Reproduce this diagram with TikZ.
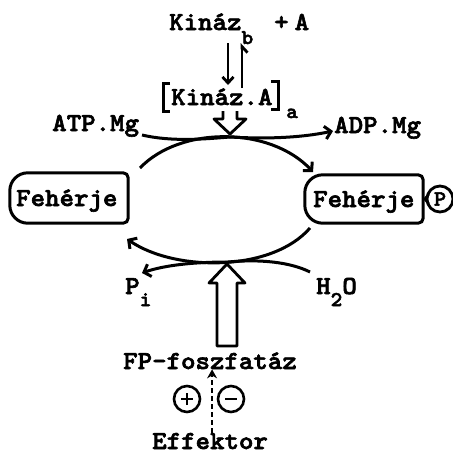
\documentclass[tikz,border=0pt]{standalone}
\usepackage{fontspec}
\newfontfamily\tw{lmmonolt10-bold}[Extension=.otf, FakeStretch=1.06, FakeBold=2.4]
\usetikzlibrary{arrows.meta,calc}
\newcommand\mainf{\tw\fontsize{26}{26}\selectfont}
\newcommand\subf{\tw\fontsize{21}{21}\selectfont}
\tikzset{
  lbl/.style={font=\mainf, inner sep=0pt, anchor=base west},
  sublbl/.style={font=\subf, inner sep=0pt, anchor=base west},
  ln/.style={line width=3pt},
  arr/.style={ln, -{Straight Barb[length=6pt,width=13pt]}},
  boxnode/.style={minimum width=118pt, minimum height=50pt, inner sep=0pt},
  pm/.style={circle, draw, line width=2.6pt, minimum size=26pt, inner sep=0pt},
}
\begin{document}
\begin{tikzpicture}[x=1pt,y=-1pt]
\useasboundingbox (0,0) rectangle (453,456);

% top: Kinaz_b + A
\node[lbl] (kin) at (169,30) {Kináz\raisebox{-14pt}{\subf b}};
\node[lbl] (plusA) at (274,30) {+\hspace{6pt}A};
% equilibrium arrows
\coordinate (d1) at (228,43); \coordinate (d2) at (228,85);
\coordinate (u1) at (242,88); \coordinate (u2) at (242,43);
\draw[ln, line width=2.8pt, -{Straight Barb[length=6pt,width=11pt]}] (d1) -- (d2);
\draw[ln, line width=2.8pt, -{Straight Barb[right,length=6pt,width=11pt]}] (u1) -- (u2);

% [Kinaz.A]_a
\node[lbl] (ka) at (171,105) {Kináz.A};
\node[sublbl] (kasub) at (286,118) {a};
\draw[ln] (170,83) -- (163,83) -- (163,111) -- (170,111);
\draw[ln] (271,81) -- (278,81) -- (278,109) -- (271,109);
% hollow arrow down
\draw[ln, line width=2.8pt, line join=round] (223,111) -- (223,119) -- (214,119) -- (230,134) -- (246,119) -- (237,119) -- (237,111);

% ATP / ADP labels
\node[lbl] (atp) at (52,131) {ATP.Mg};
\node[lbl] (adp) at (334,133) {ADP.Mg};

% boxes
\node[boxnode] (fl) at (69,198) {};
\node[lbl] (flt) at (16,206) {Fehérje};
\draw[ln] (fl.north) [rounded corners=5pt] -- (fl.north east) -- (fl.south east) -- (fl.south)
  [rounded corners=18pt] -- (fl.south west) -- (fl.north west) -- cycle;

\node[boxnode, minimum height=48pt] (fr) at (364,199) {};
\node[lbl] (frt) at (313,207) {Fehérje};
\draw[ln] (fr.north) [rounded corners=5pt] -- (fr.north east) -- (fr.south east) -- (fr.south)
  [rounded corners=18pt] -- (fr.south west) -- (fr.north west) -- cycle;

\node[circle, draw, line width=2.8pt, minimum size=26pt, inner sep=0pt, font=\tw\fontsize{22}{22}\selectfont] (pc) at (440,199) {P};
\draw[line width=2.6pt, -{Straight Barb[length=4pt,width=10pt]}] (pc.west) -- (fr.east);

% top arc with ATP / ADP branches
\coordinate (tl) at (140,168);
\coordinate (tr) at (313,172);
\coordinate (ttop) at (230,137);
\coordinate (atpE) at (142,135);
\coordinate (adpW) at (333,131);
\draw[arr] (tl) .. controls (180,126) and (270,126) .. (tr);
\draw[ln] (atpE) .. controls (172,142) and (205,139) .. (ttop);
\draw[arr] (ttop) .. controls (265,139) and (300,138) .. (adpW);

% bottom arc with Pi / H2O branches
\coordinate (br) at (310,228);
\coordinate (bl) at (127,239);
\coordinate (bbot) at (228,262);
\coordinate (piE) at (142,273);
\coordinate (h2oW) at (310,272);
\draw[arr] (br) .. controls (272,272) and (175,272) .. (bl);
\draw[arr] (bbot) .. controls (195,262) and (165,265) .. (piE);
\draw[ln] (h2oW) .. controls (290,262) and (260,259) .. (bbot);

\node[lbl] (pi) at (125,294) {P\raisebox{-12pt}{\subf i}};
\node[lbl] (h2o) at (316,294) {H\raisebox{-12pt}{\subf 2}O};

% hollow arrow up
\draw[ln, line width=2.8pt, line join=round] (217,346) -- (217,283) -- (209,283) -- (227,264) -- (245,283) -- (237,283) -- (237,346) -- cycle;

% FP-foszfataz, effector
\node[lbl] (fp) at (123,369) {FP-foszfatáz};
\node[lbl] (eff) at (152,449) {Effektor};
\draw[line width=2.6pt, dash pattern=on 5pt off 3pt, -{Stealth[length=9pt,width=10pt]}] ([xshift=2pt]eff.north) -- ([xshift=2pt]eff.north |- fp.south);

\node[pm] (plus) at (187,399) {};
\draw[line width=2.6pt] ([xshift=-6pt]plus.center) -- ([xshift=6pt]plus.center) ([yshift=-6pt]plus.center) -- ([yshift=6pt]plus.center);
\node[pm] (minus) at (231,399) {};
\draw[line width=2.6pt] ([xshift=-6pt]minus.center) -- ([xshift=6pt]minus.center);
\end{tikzpicture}
\end{document}
